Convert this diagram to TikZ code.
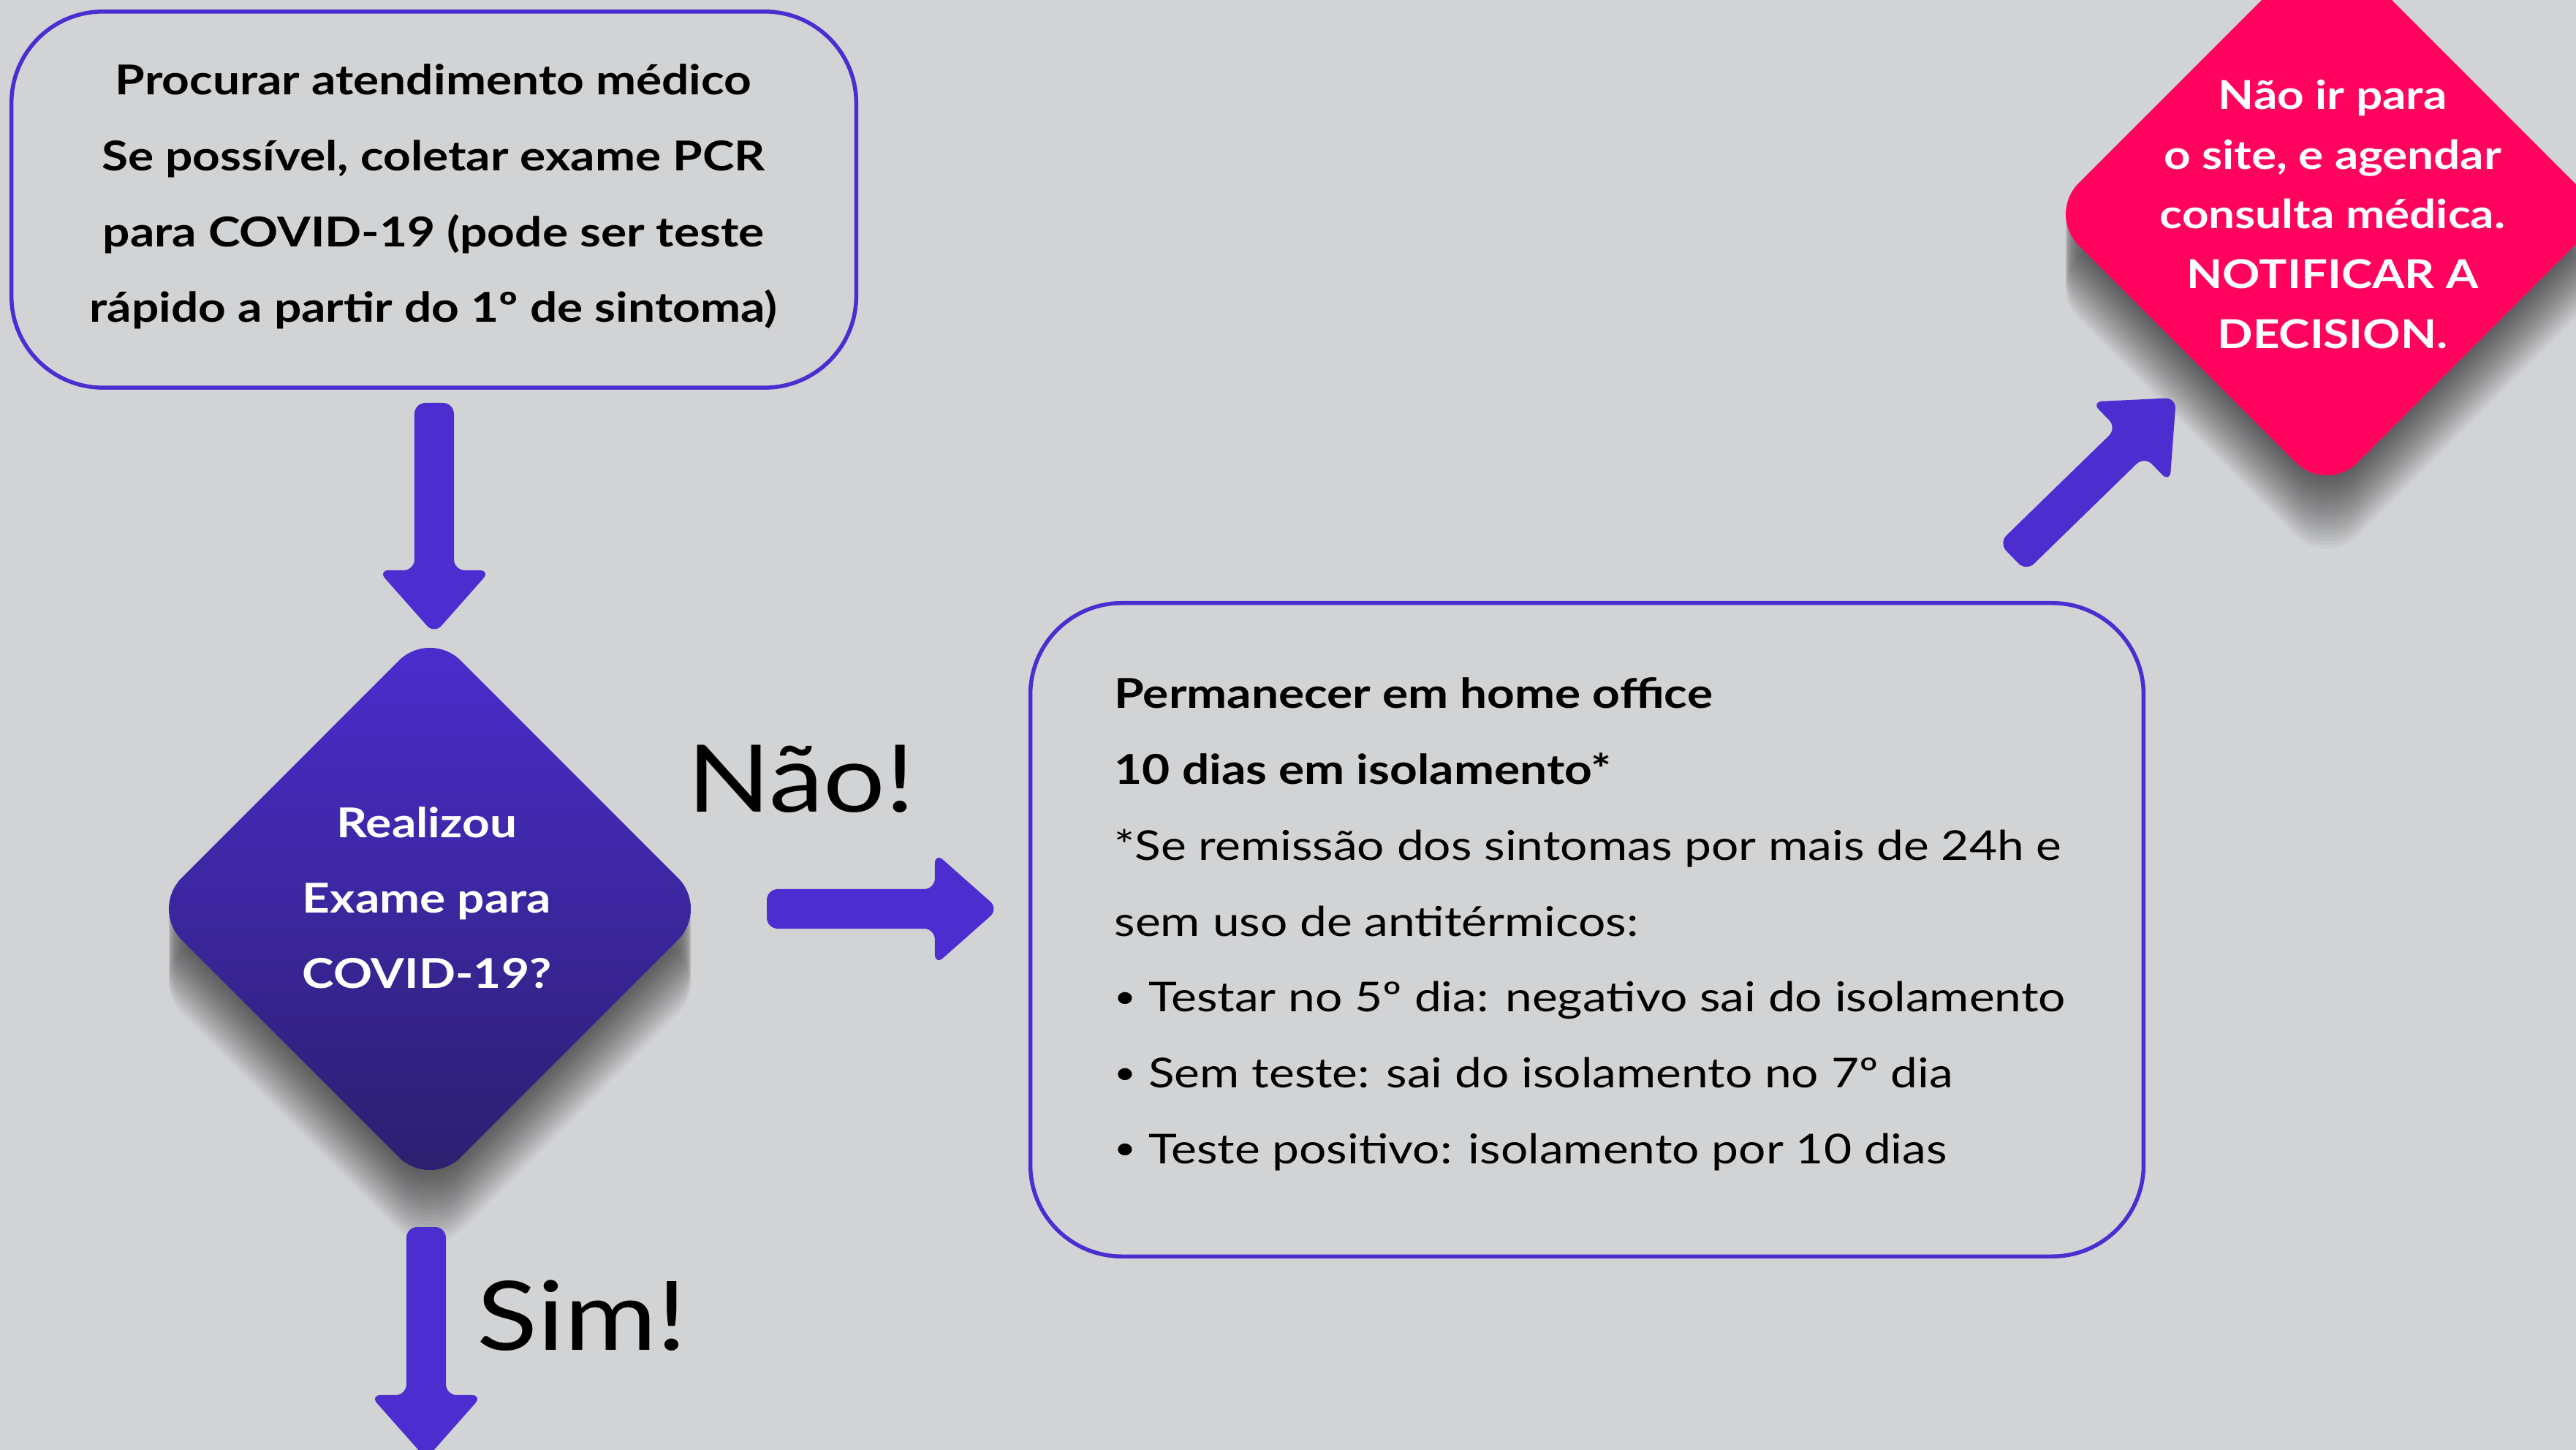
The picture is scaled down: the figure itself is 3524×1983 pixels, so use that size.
\documentclass[tikz,border=0pt]{standalone}
\usepackage{fontspec}
\setmainfont{Lato}[FakeStretch=1.17]
\usetikzlibrary{calc,shapes.geometric}
\definecolor{bg}{RGB}{210,211,213}
\definecolor{purp}{RGB}{76,45,208}
\definecolor{purpdark}{RGB}{43,31,108}
\definecolor{hotpink}{RGB}{255,3,94}
\newcommand\smallbul{{\fontsize{12.5}{12.5}\selectfont\raisebox{0.25ex}{•}}}
\tikzset{
  roundbox/.style={draw=purp, line width=0.055cm, rounded corners=1.25cm, inner sep=0},
  decshape/.style={diamond, aspect=1, minimum width=7.64cm, minimum height=7.64cm, inner sep=0, rounded corners=0.6cm},
  shadowcopy/.style={decshape, fill=black, fill opacity=0.035, draw=none},
  arrowfill/.style={fill=purp, rounded corners=0.15cm},
  boxtext/.style={font=\fontsize{16}{29.5}\selectfont\bfseries, align=center, inner sep=0},
  listtext/.style={font=\fontsize{16}{29.5}\selectfont, align=left, inner sep=0},
  whitetext/.style={text=white, font=\fontsize{16}{29.3}\selectfont\bfseries, align=center, inner sep=0},
  pinktext/.style={text=white, font=\fontsize{15.5}{23.3}\selectfont\bfseries, align=center, inner sep=0},
  biglabel/.style={font=\fontsize{37.3}{40}\selectfont, inner sep=0}
}
\newcommand\fatarrow[2]{%
  \coordinate (facbase) at ($(#2)!0.87cm!(#1)$);
  \fill[arrowfill] ($(#1)!0.27cm!90:(#2)$) -- ($(facbase)!0.27cm!-90:(#1)$) -- ($(facbase)!0.77cm!-90:(#1)$) -- (#2) -- ($(facbase)!0.77cm!90:(#1)$) -- ($(facbase)!0.27cm!90:(#1)$) -- ($(#1)!0.27cm!-90:(#2)$) -- cycle;}
\begin{document}
\begin{tikzpicture}[x=0.01cm, y=-0.01cm]
\useasboundingbox (0,0) rectangle (3524,1983);
\fill[bg] (0,0) rectangle (3524,1983);
\begin{scope}
\clip (0,0) rectangle (3524,1983);
% shadows
\foreach \k in {1,...,20} {
  \node[shadowcopy] at (588,1243+5*\k) {};
  \node[shadowcopy] at (3183,293+5*\k) {};
}
% boxes
\node[roundbox, minimum width=11.55cm, minimum height=5.14cm] (box1) at (593.5,273) {};
\node[roundbox, minimum width=15.22cm, minimum height=8.93cm] (box2) at (2171,1271.5) {};
% diamonds
\node[decshape, top color=purp, middle color=purp, bottom color=purpdark] (dec) at (588,1243) {};
\node[decshape, fill=hotpink] (warn) at (3183,293) {};
% texts
\node[boxtext] (t1) at (593,269) {Procurar atendimento médico\\Se possível, coletar exame PCR\\para COVID-19 (pode ser teste\\rápido a partir do 1º de sintoma)};
\node[listtext, anchor=west] (t2) at (1524,1264) {\textbf{Permanecer em home office}\\\textbf{10 dias em isolamento*}\\*Se remissão dos sintomas por mais de 24h e\\sem uso de antitérmicos:\\\smallbul{} Testar no 5º dia: negativo sai do isolamento\\\smallbul{} Sem teste: sai do isolamento no 7º dia\\\smallbul{} Teste positivo: isolamento por 10 dias};
\node[whitetext] (t4) at (584,1228) {Realizou\\Exame para\\COVID-19?};
\node[pinktext] (t3) at (3191,293) {Não ir para\\o site, e agendar\\consulta médica.\\NOTIFICAR A\\DECISION.};
\node[biglabel, font=\fontsize{36.3}{40}\selectfont, anchor=base west] (nao) at (940,1111) {Não!};
\node[biglabel, anchor=base west] (sim) at (652,1846) {Sim!};
% arrows
\coordinate (a1s) at (594,551); \coordinate (a1e) at (594,867);
\coordinate (a2s) at (1049,1243); \coordinate (a2e) at (1366,1243);
\coordinate (a3s) at (583,1678); \coordinate (a3e) at (583,1995);
\coordinate (a4s) at (2753,762); \coordinate (a4e) at (2977,544);
\fatarrow{a1s}{a1e}
\fatarrow{a2s}{a2e}
\fatarrow{a3s}{a3e}
\fatarrow{a4s}{a4e}
\end{scope}
\end{tikzpicture}
\end{document}
